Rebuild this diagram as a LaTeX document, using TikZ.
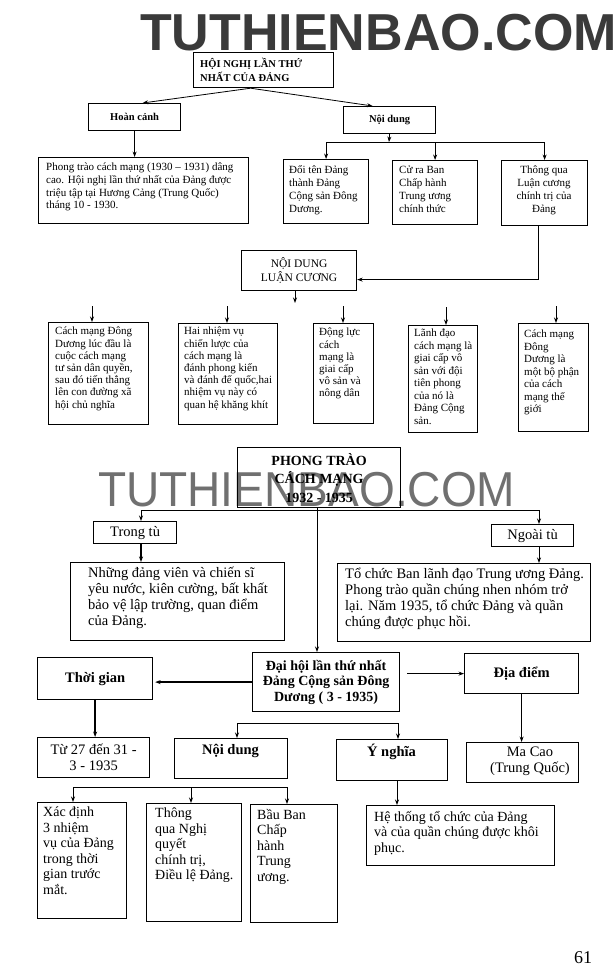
\documentclass[tikz,border=0pt]{standalone}
\usepackage{fontspec}
\setmainfont{Liberation Serif}
\newfontfamily\wmfont{Liberation Sans}
\usetikzlibrary{arrows.meta}
\definecolor{wmdark}{HTML}{3A3A3A}
\definecolor{wmgray}{HTML}{707070}
\newcommand{\fz}[2]{\fontsize{#1}{#2}\selectfont}
\begin{document}
\begin{tikzpicture}[x=1pt,y=-1pt,
  box/.style={draw, line width=1.2pt, inner sep=0pt, anchor=north west},
  lbl/.style={inner sep=0pt, anchor=north west, align=left},
  clbl/.style={inner sep=0pt, anchor=north, align=center},
  arr/.style={-{Stealth[length=5.5pt,width=4pt]}, line width=0.8pt},
  thk/.style={line width=1.6pt},
  wm/.style={inner sep=0pt, anchor=base west}]
\useasboundingbox[fill=white] (0,0) rectangle (615,980);

% watermarks
\node[wm, text=wmdark, font=\wmfont\bfseries\fz{52}{52}] (wmtop) at (140,50) {TUTHIENBAO.COM};
\node[wm, text=wmgray, font=\wmfont\fz{49}{49}] (wmmid) at (98,506) {\scalebox{0.94}[1]{TUTHIENBAO.COM}};

%%%%%%%% SECTION 1
\node[box, minimum width=140pt, minimum height=35pt] (a) at (193,52) {};
\node[lbl, font=\bfseries\fz{10.5}{13.5}] (at) at (200,58) {HỘI NGHỊ LẦN THỨ\\NHẤT CỦA ĐẢNG};

\node[box, minimum width=92pt, minimum height=27pt, font=\bfseries\fz{10.5}{12}] (hc) at (88,103) {Hoàn cảnh};
\node[box, minimum width=92pt, minimum height=27pt, font=\bfseries\fz{10.5}{12}] (nd) at (343,106) {Nội dung};

\node[box, minimum width=210pt, minimum height=66pt] (ctx) at (38,157) {};
\node[lbl, font=\fz{11}{12.7}] (ctxt) at (46,163) {Phong trào cách mạng (1930 – 1931) dâng\\cao. Hội nghị lần thứ nhất của Đảng được\\triệu tập tại Hương Cảng (Trung Quốc)\\tháng 10 - 1930.};

\node[box, minimum width=85pt, minimum height=64pt] (dt) at (283,159) {};
\node[lbl, font=\fz{11}{13}] (dtt) at (289,165) {Đổi tên Đảng\\thành Đảng\\Cộng sản Đông\\Dương.};
\node[box, minimum width=85pt, minimum height=64pt] (ct) at (392,160) {};
\node[lbl, font=\fz{11}{13}] (ctt) at (399,166) {Cử ra Ban\\Chấp hành\\Trung ương\\chính thức};
\node[box, minimum width=86pt, minimum height=65pt] (tq) at (501,160) {};
\node[clbl, font=\fz{11}{13}] (tqt) at (544,166) {Thông qua\\Luận cương\\chính trị của\\Đảng};

\node[box, minimum width=115pt, minimum height=40pt, align=center, font=\fz{11.5}{13.5}] (ndlc) at (241,250) {NỘI DUNG\\LUẬN CƯƠNG};

\node[box, minimum width=100pt, minimum height=102pt] (l1) at (48,322) {};
\node[lbl, font=\fz{11}{12.2}] (l1t) at (55,327) {Cách mạng Đông\\Dương lúc đầu là\\cuộc cách mạng\\tư sản dân quyền,\\sau đó tiến thẳng\\lên con đường xã\\hội chủ nghĩa};
\node[box, minimum width=99pt, minimum height=101pt] (l2) at (178,323) {};
\node[lbl, font=\fz{11}{12.2}] (l2t) at (184,327) {Hai nhiệm vụ\\chiến lược của\\cách mạng là\\đánh phong kiến\\và đánh đế quốc,hai\\nhiệm vụ này có\\quan hệ khăng khít};
\node[box, minimum width=60pt, minimum height=100pt] (l3) at (313,323) {};
\node[lbl, font=\fz{11}{12.2}] (l3t) at (319,328) {Động lực\\cách\\mạng là\\giai cấp\\vô sản và\\nông dân};
\node[box, minimum width=69pt, minimum height=107pt] (l4) at (408,325) {};
\node[lbl, font=\fz{11}{12.5}] (l4t) at (414,329) {Lãnh đạo\\cách mạng là\\giai cấp vô\\sản với đội\\tiên phong\\của nó là\\Đảng Cộng\\sản.};
\node[box, minimum width=70pt, minimum height=108pt] (l5) at (518,323) {};
\node[lbl, font=\fz{11}{12.5}] (l5t) at (524,330) {Cách mạng\\Đông\\Dương là\\một bộ phận\\của cách\\mạng thế\\giới};

% section 1 connectors
\draw[arr] ([xshift=-13pt]a.south) -- ([xshift=8pt]hc.north);
\draw[arr] ([xshift=-13pt]a.south) -- ([xshift=-17pt]nd.north);
\draw[arr] (hc.south) -- (hc.south |- ctx.north);
\coordinate (br1) at (389,142);
\draw[arr] (nd.south) -- (br1);
\draw[arr] (br1) -| (dt.north);
\draw[arr] (br1) -| (tq.north);
\draw[arr] (ct.north |- br1) -- (ct.north);
\draw[arr] ([xshift=-6pt]tq.south) |- ([yshift=-9pt]ndlc.east);
\coordinate (nd1) at (295,303);
\draw[arr] (ndlc.south -| nd1) -- (nd1);
\coordinate (f1) at (92,306);
\coordinate (f2) at (227,306);
\coordinate (f3) at (343,306);
\coordinate (f4) at (446,307);
\coordinate (f5) at (556,306);
\draw[arr] (f1) -- (f1 |- l1.north);
\draw[arr] (f2) -- (f2 |- l2.north);
\draw[arr] (f3) -- (f3 |- l3.north);
\draw[arr] (f4) -- (f4 |- l4.north);
\draw[arr] (f5) -- (f5 |- l5.north);

%%%%%%%% SECTION 2
\node[box, minimum width=163pt, minimum height=60pt, align=center, font=\bfseries\fz{14}{18.5}] (pt) at (237,447) {PHONG TRÀO\\CÁCH MẠNG\\1932 - 1935};
\node[box, minimum width=83pt, minimum height=22pt, font=\fz{14.5}{15}] (tt) at (93,521) {Trong tù};
\node[box, minimum width=82pt, minimum height=22pt, font=\fz{14.5}{15}] (nt) at (491,524) {Ngoài tù};
\node[box, minimum width=214pt, minimum height=78pt] (lt) at (70,562) {};
\node[lbl, font=\fz{14.5}{16}] (ltt) at (88,567) {Những đảng viên và chiến sĩ\\yêu nước, kiên cường, bất khất\\bảo vệ lập trường, quan điểm\\của Đảng.};
\node[box, minimum width=253pt, minimum height=78pt] (rt) at (337,563) {};
\node[lbl, font=\fz{14.5}{16}] (rtt) at (345,568) {Tổ chức Ban lãnh đạo Trung ương Đảng.\\Phong trào quần chúng nhen nhóm trở\\lại. Năm 1935, tổ chức Đảng và quần\\chúng được phục hồi.};

\node[box, minimum width=147pt, minimum height=59pt, align=center, font=\bfseries\fz{14}{15.5}] (dh) at (252,652) {Đại hội lần thứ nhất\\Đảng Cộng sản Đông\\Dương ( 3 - 1935)};
\node[box, minimum width=115pt, minimum height=42pt, font=\bfseries\fz{14.5}{15}] (tg) at (37,657) {Thời gian};
\node[box, minimum width=114pt, minimum height=40pt, font=\bfseries\fz{14.5}{15}] (dd) at (464,653) {Địa điểm};

\node[box, minimum width=112pt, minimum height=40pt, align=center, font=\fz{14.5}{16}] (tu) at (37,737) {Từ 27 đến 31 -\\3 - 1935};
\node[box, minimum width=113pt, minimum height=40pt] (nd2) at (174,738) {};
\node[clbl, font=\bfseries\fz{14.5}{15}] (nd2t) at (230.5,744) {Nội dung};
\node[box, minimum width=111pt, minimum height=41pt] (yn) at (336,739) {};
\node[clbl, font=\bfseries\fz{14.5}{15}] (ynt) at (391.5,744) {Ý nghĩa};
\node[box, minimum width=112pt, minimum height=40pt] (mc) at (466,742) {};
\node[clbl, font=\fz{14.5}{16}] (mct) at (530,747) {Ma Cao\\(Trung Quốc)};

\node[box, minimum width=89pt, minimum height=116pt] (xd) at (37,802) {};
\node[lbl, font=\fz{14}{15.5}] (xdt) at (43,807) {Xác định\\3 nhiệm\\vụ của Đảng\\trong thời\\gian trước\\mắt.};
\node[box, minimum width=95pt, minimum height=118pt] (tn) at (146,803) {};
\node[lbl, font=\fz{14}{15.5}] (tnt) at (155,808) {Thông\\qua Nghị\\quyết\\chính trị,\\Điều lệ Đảng.};
\node[box, minimum width=87pt, minimum height=118pt] (bb) at (250,804) {};
\node[lbl, font=\fz{14}{15.5}] (bbt) at (257,809) {Bầu Ban\\Chấp\\hành\\Trung\\ương.};
\node[box, minimum width=188pt, minimum height=60pt] (ht) at (366,805) {};
\node[lbl, font=\fz{14}{15.5}] (htt) at (374,811) {Hệ thống tổ chức của Đảng\\và của quần chúng được khôi\\phục.};

\node[inner sep=0pt, font=\fz{18}{18}] (pg) at (583,958) {61};

% section 2 connectors
\coordinate (h2) at (317,510);
\coordinate (xt) at (141,0);
\coordinate (xn) at (539,0);
\draw[arr] (pt.south -| h2) -- (dh.north -| h2);
\draw[arr] (h2) -| (tt.north -| xt);
\draw[arr] (h2) -| (nt.north -| xn);
\draw[arr, thk] (tt.south -| xt) -- (lt.north -| xt);
\draw[arr] (nt.south -| xn) -- (rt.north -| xn);
\draw[arr, thk, shorten >=2pt] (dh.west) -- (dh.west -| tg.east);
\draw[arr, shorten <=7pt] (dh.east |- dd.west) -- (dd.west);
\draw[arr, thk] (tg.south) -- (tg.south |- tu.north);
\draw[arr, thk] (dd.south) -- (dd.south |- mc.north);
\coordinate (b2l) at (237,723);
\coordinate (b2r) at (398,723);
\draw[arr] (b2l) -- (b2l |- nd2.north);
\draw[arr] (b2l) -- (b2r) -- (b2r |- yn.north);
\coordinate (b3l) at (73,787);
\coordinate (b3m) at (191,787);
\coordinate (b3r) at (287,787);
\draw[line width=0.8pt] (b3l) -- (b3r);
\draw[arr] (b3l) -- (b3l |- xd.north);
\draw[arr] (b3m) -- (b3m |- tn.north);
\draw[arr] (b3r) -- (b3r |- bb.north);
\coordinate (xy) at (397,0);
\draw[arr] (yn.south -| xy) -- (ht.north -| xy);
\end{tikzpicture}
\end{document}
